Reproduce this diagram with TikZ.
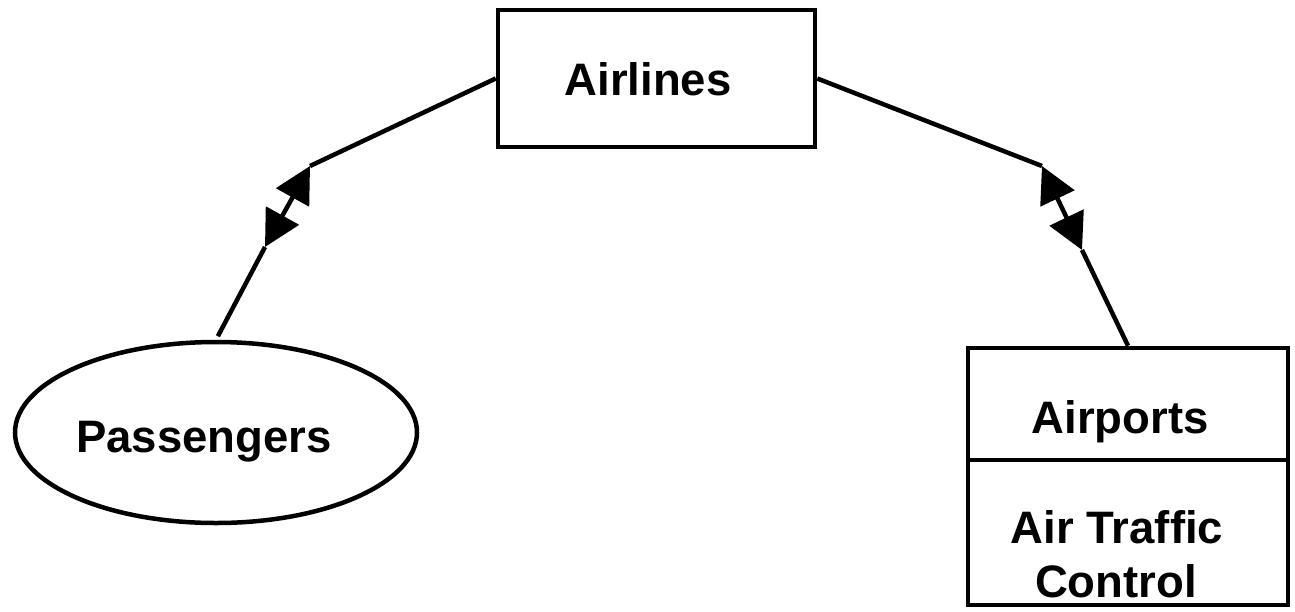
\documentclass[tikz,border=0pt]{standalone}
\usepackage{fontspec}
\setmainfont{Liberation Sans}
\usetikzlibrary{arrows.meta,shapes.geometric}
\tikzset{
  shapebox/.style={draw, line width=4.5pt, rectangle, inner sep=0pt},
  shapeell/.style={draw, line width=4.5pt, ellipse, inner sep=0pt},
  lbl/.style={anchor=base, inner sep=0pt, font=\fontsize{45.5}{50}\selectfont\bfseries},
  conn/.style={line width=4.5pt},
  dbl/.style={line width=4.5pt, {Triangle[length=36pt,width=37pt]}-{Triangle[length=36pt,width=37pt]}}
}
\begin{document}
\begin{tikzpicture}[x=1pt,y=-1pt]
\useasboundingbox (0,0) rectangle (1295,611);
% shapes
\node[shapebox, minimum width=317pt, minimum height=137pt] (airlines) at (656.5,78.5) {};
\node[shapeell, minimum width=402pt, minimum height=181pt] (passengers) at (216,432.5) {};
\node[shapebox, minimum width=320pt, minimum height=112pt] (airports) at (1128,404) {};
\node[shapebox, minimum width=320pt, minimum height=145pt] (atc) at (1128,532.5) {};
% texts
\node[lbl] (tairlines) at (648,95) {Airlines};
\node[lbl] (tpass) at (204,452) {Passengers};
\node[lbl] (tairports) at (1120,433) {Airports};
\node[lbl] (tatc1) at (1117,543) {Air Traffic};
\node[lbl] (tatc2) at (1116,597) {Control};
% connector points
\coordinate (lt) at (310,166);
\coordinate (lb) at (265,247);
\coordinate (rt) at (1042,166);
\coordinate (rb) at (1082,250);
% connectors
\draw[conn] (airlines.west) -- (lt);
\draw[dbl] (lt) -- (lb);
\draw[conn, shorten >=4pt] (lb) -- (passengers.north);
\draw[conn] (airlines.east) -- (rt);
\draw[dbl] (rt) -- (rb);
\draw[conn] (rb) -- (airports.north);
\end{tikzpicture}
\end{document}
